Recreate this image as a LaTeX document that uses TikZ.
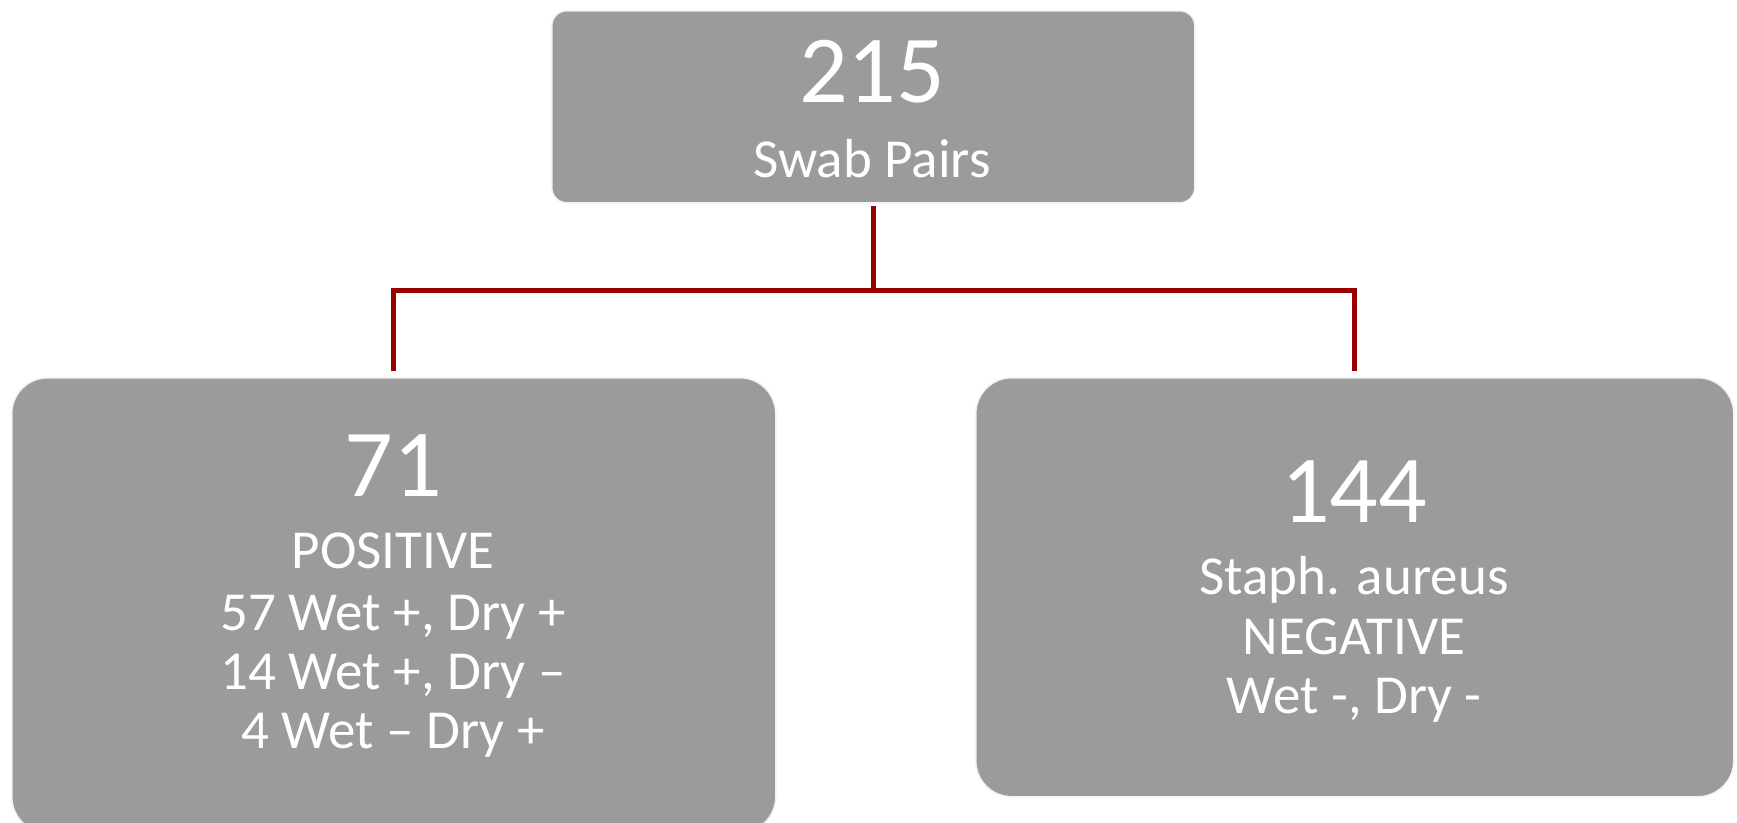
\documentclass[tikz,border=0pt]{standalone}
\usepackage{fontspec}
\setmainfont{Carlito}
\definecolor{boxgray}{RGB}{155,155,155}
\definecolor{linkred}{RGB}{153,0,0}
\tikzset{
  box/.style={draw=black!5, line width=1.5pt, fill=boxgray, rounded corners=#1, inner sep=0pt, anchor=north west},
  bignum/.style={text=white, anchor=base, inner sep=0pt, font=\fontsize{96}{96}\selectfont},
  line/.style={text=white, anchor=base, inner sep=0pt, font=\fontsize{55}{55}\selectfont},
  link/.style={draw=linkred, line width=5pt, line join=miter}
}
\begin{document}
\begin{tikzpicture}[x=1pt,y=-1pt]
\useasboundingbox (0,0) rectangle (1737,822);
% boxes
\node[box=15pt, minimum width=643pt, minimum height=192pt] (top) at (551,10) {};
\node[box=36pt, minimum width=764pt, minimum height=455pt] (left) at (11,377) {};
\node[box=36pt, minimum width=758pt, minimum height=419pt] (right) at (975,377) {};
% connectors
\coordinate (bar) at (0,290);
\draw[link] ([yshift=-2pt]top.south) -- (top.south |- bar);
\draw[link] ([yshift=6pt]left.north) |- (top.south |- bar) -| ([yshift=6pt]right.north);
% texts
\node[bignum] (t215) at (872,102) {215};
\node[line] (tswab) at (872,177) {Swab Pairs};
\node[bignum] (t71) at (393,496) {71};
\node[line] (tpos) at (393,568) {POSITIVE};
\node[line] (tl1) at (393,630) {57 Wet +, Dry +};
\node[line] (tl2) at (393,689) {14 Wet +, Dry –};
\node[line] (tl3) at (393,748) {4 Wet – Dry +};
\node[bignum] (t144) at (1354,522) {144};
\node[line] (tstaph) at (1354,594) {Staph. aureus};
\node[line] (tneg) at (1354,654) {NEGATIVE};
\node[line] (tr3) at (1354,713) {Wet -, Dry -};
\end{tikzpicture}
\end{document}
